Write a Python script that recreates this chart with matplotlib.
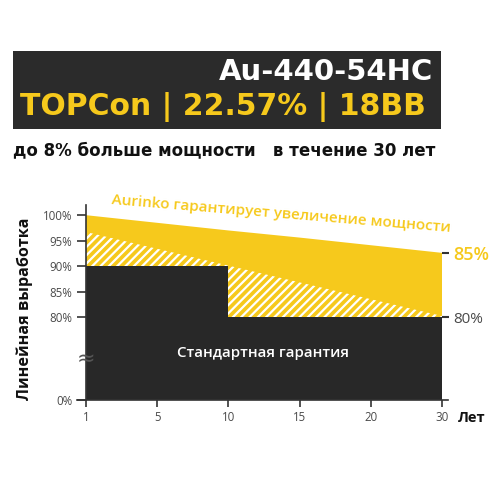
import numpy as np
import matplotlib
matplotlib.use("Agg")
import matplotlib.pyplot as plt
from matplotlib.patches import Rectangle
import matplotlib.transforms as mtransforms

plt.rcParams['font.family'] = ['Open Sans', 'DejaVu Sans']
plt.rcParams['hatch.linewidth'] = 1.6

# ---- data ----
years = [1, 5, 10, 15, 20, 30]
year_labels = ['1', '5', '10', '15', '20', '30']
aurinko_top = [100, 98.5, 97.0, 95.6, 94.1, 92.6]       # Aurinko guaranteed (upper edge)
aurinko_linear = [96.7, 93.4, 90.1, 86.8, 83.5, 80.2]   # hatched upper edge
standard_years = [1, 10, 10, 30]
standard_values = [90, 90, 80, 80]                       # standard guarantee
yticks_left = [0, 80, 85, 90, 95, 100]
yticklabels_left = ['0%', '80%', '85%', '90%', '95%', '100%']
right_ticks = [92.6, 80]
right_labels = ['85%', '80%']

title1 = 'Au-440-54HC'
title2 = 'TOPCon | 22.57% | 18BB'
subtitle = 'до 8% больше мощности   в течение 30 лет'
band_label = 'Aurinko гарантирует увеличение мощности'
std_label = 'Стандартная гарантия'
ylabel = 'Линейная выработка'
xlabel = 'Лет'

YELLOW = '#F6C91C'
DARK = '#282828'
GRAY = '#4a4a4a'
HEAD_FONT = ['DejaVu Sans']

# ---- scales ----
positions = np.arange(len(years), dtype=float)

def xf(x):
    return np.interp(x, years, positions)

def xi(p):
    return np.interp(p, positions, years)

BRK = 63.7
def yf(v):
    v = np.asarray(v, dtype=float)
    return np.where(v >= 80, v, BRK + v * (80 - BRK) / 80)

def yi(u):
    u = np.asarray(u, dtype=float)
    return np.where(u >= 80, u, (u - BRK) * 80 / (80 - BRK))

fig = plt.figure(figsize=(5, 5), dpi=100)
ax = fig.add_axes([0.172, 0.2, 0.712, 0.39])
ax.set_xscale('function', functions=(xf, xi))
ax.set_yscale('function', functions=(yf, yi))
ax.set_xlim(1, 30)
ax.set_ylim(0, 102)

ax.fill_between(years, aurinko_top, 0, facecolor=YELLOW, linewidth=0, zorder=1)
ax.fill_between(years, aurinko_linear, 0, facecolor=YELLOW, edgecolor='white',
                hatch='////', linewidth=0, zorder=2)
ax.fill_between(standard_years, standard_values, 0, facecolor=DARK, linewidth=0, zorder=3)

for s in ['top', 'right', 'bottom']:
    ax.spines[s].set_visible(False)
ax.spines['left'].set_color('#333333')
ax.spines['left'].set_linewidth(1.2)
ax.spines['left'].set_zorder(4)
ax.axhline(0, xmin=-0.025, xmax=1.017, color='#333333', lw=1.2, clip_on=False, zorder=5)

ax.set_xticks(years)
ax.set_xticklabels(year_labels)
ax.set_yticks(yticks_left)
ax.set_yticklabels(yticklabels_left)
ax.minorticks_off()
ax.tick_params(axis='x', length=5, width=1.2, color='#333333', labelsize=8.3,
               labelcolor=GRAY, pad=3)
ax.tick_params(axis='y', length=6.3, width=1.2, color='#333333', labelsize=8.3,
               labelcolor=GRAY, pad=3.5)

# break mark
trans = mtransforms.blended_transform_factory(ax.transAxes, ax.transData)
ax.text(0, 40, '≈', transform=trans, ha='center', va='center', fontsize=16,
        color='#555555', zorder=6, clip_on=False, family='DejaVu Sans')

# right axis
ax2 = ax.twinx()
ax2.set_yscale('function', functions=(yf, yi))
ax2.set_ylim(0, 102)
for s in ax2.spines.values():
    s.set_visible(False)
ax2.set_yticks(right_ticks)
ax2.set_yticklabels(right_labels)
ax2.minorticks_off()
ax2.tick_params(axis='y', length=5, width=1.5, color='#333333', pad=3)
lbls = ax2.get_yticklabels()
lbls[0].set_color(YELLOW)
lbls[0].set_fontsize(13)
lbls[0].set_fontweight('semibold')
lbls[1].set_color(GRAY)
lbls[1].set_fontsize(11)

ax.text(0.497, 0.24, std_label, transform=ax.transAxes, ha='center', va='center',
        color='white', fontsize=10.8, fontweight='semibold', zorder=6)

# header
fig.patches.append(Rectangle((0.026, 0.742), 0.856, 0.156, transform=fig.transFigure,
                             facecolor='#2b2b2b', edgecolor='none'))
fig.text(0.866, 0.84, title1, ha='right', va='baseline', color='white',
         fontsize=21, fontweight='bold', family=HEAD_FONT)
fig.text(0.04, 0.77, title2, ha='left', va='baseline', color=YELLOW,
         fontsize=21.5, fontweight='bold', family=HEAD_FONT)
fig.text(0.026, 0.69, subtitle, ha='left', va='baseline', color='#111111',
         fontsize=12, fontweight='bold', family=HEAD_FONT)

fig.text(0.562, 0.572, band_label, ha='center', va='center', rotation=-4.7,
         rotation_mode='anchor', color=YELLOW, fontsize=11, fontweight='semibold')
fig.text(0.05, 0.382, ylabel, ha='center', va='center', rotation=90,
         color='#111111', fontsize=11.6, fontweight='bold')
fig.text(0.944, 0.164, xlabel, ha='center', va='center', color='#111111',
         fontsize=10.5, fontweight='bold')

fig.savefig('out.png', dpi=100, facecolor='white')
